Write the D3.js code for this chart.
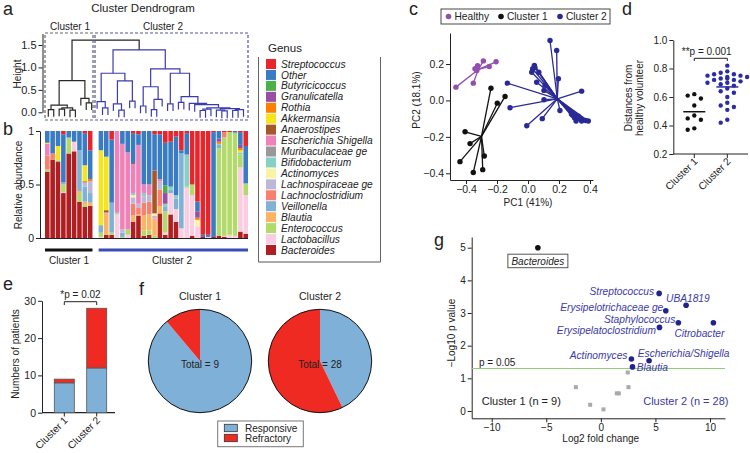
<!DOCTYPE html>
<html><head><meta charset="utf-8">
<script src="https://cdn.jsdelivr.net/npm/d3@7"></script>
<style>body{margin:0;background:#fff}svg{display:block}</style>
</head><body>
<svg id="fig" width="750" height="453"></svg>
<script>
// ---------------- DATA ----------------
const genera = ["Streptococcus","Other","Butyricicoccus","Granulicatella","Rothia","Akkermansia","Anaerostipes","Escherichia Shigella","Muribaculaceae ge","Bifidobacterium","Actinomyces","Lachnospiraceae ge","Lachnoclostridium","Veillonella","Blautia","Enterococcus","Lactobacillus","Bacteroides"];
const genusKeys = ["St","Ot","Bu","Gr","Ro","Ak","An","Es","Mu","Bi","Ac","Ls","Lc","Ve","Bl","En","Lb","Ba"];
const genusColors = ["#e8252a","#3a7cc3","#4daf4a","#984ea3","#ff7f00","#f5e51c","#a65628","#f081b9","#999999","#86d0c4","#f8f4a4","#bdb8da","#f8806f","#80b1d6","#fdb462","#b2da6a","#fbcde2","#b01e22"];

const cluster1Abundance = [
  {Ot:.11, Es:.11, Lc:.13, Ak:.01, En:.02, Ba:.62},
  {Ot:.21, Lc:.06, Ba:.73},
  {Ot:.14, Ak:.14, Ve:.01, Ba:.71},
  {St:.03, Ot:.45, Ve:.02, En:.07, Lb:.01, Ba:.42},
  {Ot:.06, En:.14, Ve:.01, Ba:.79},
  {Ot:.10, Lb:.09, Ba:.81},
  {Ot:.18, Ve:.38, En:.08, Bl:.02, Ba:.34},
  {St:.02, Ot:.30, Ak:.15, An:.01, Ls:.04, Ve:.14, Bl:.03, En:.02, Ba:.29},
  {St:.18, Ot:.27, Ro:.02, Ls:.11, Ve:.09, Bl:.03, Ba:.30}
];
const cluster2Abundance = [
  {Ot:.18, Ak:.70, Ve:.07, En:.04, Lb:.01},
  {Ot:.24, Ak:.50, An:.02, Lc:.01, Bl:.20, Ba:.03},
  {St:.08, Ot:.59, Ve:.28, En:.02, Ba:.03},
  {Es:.76, Ve:.01, En:.01, Lb:.22},
  {Ot:.12, Es:.80, Ls:.03, Ve:.04, En:.01},
  {Ot:.20, Es:.72, Lb:.03, En:.05},
  {St:.02, Ot:.28, An:.01, Es:.27, Bi:.02, Ls:.06, Lc:.11, Ac:.02, Bl:.06, Ba:.15},
  {St:.03, Ot:.10, Es:.55, Ls:.04, Lc:.06, Bl:.01, Ba:.21},
  {Ot:.50, Es:.08, Bi:.03, Ls:.06, Lc:.12, Bl:.14, En:.05, Ba:.02},
  {Ot:.50, Es:.10, Ls:.06, Lc:.12, Bl:.15, En:.04, Ba:.03},
  {St:.03, Ot:.34, An:.40, Ls:.03, Ac:.02, Bl:.16, En:.02},
  {St:.03, Ot:.42, Es:.02, Ls:.08, Lc:.15, Bl:.07, Ba:.23},
  {St:.11, Ot:.40, Bu:.07, Gr:.10, Bi:.03, Ve:.04, En:.20, Lb:.02, Ba:.03},
  {St:.10, Ot:.42, Bi:.03, Lb:.20, Ve:.03, Ba:.22},
  {St:.05, Ot:.55, Bi:.03, Ve:.10, Lb:.12, Ba:.15},
  {St:.18, Ot:.03, Ve:.70, Lb:.09},
  {St:.02, Ot:.20, Bi:.30, En:.01, Lb:.47},
  {St:.50, En:.10, Lb:.38, Ba:.02},
  {St:.66, Ot:.09, Gr:.06, Ro:.02, Ac:.06, Lb:.11},
  {St:.97, Ot:.02, Ba:.01},
  {St:.97, Ot:.02, Lb:.01},
  {St:.01, Ot:.98, Ba:.01},
  {Ot:.07, Gr:.03, Ro:.02, Ve:.03, Bi:.01, En:.82, Ba:.02},
  {St:.01, Lc:.05, En:.92, Lb:.01, Ba:.01},
  {St:.01, En:.96, Lb:.03},
  {Ot:.01, Mu:.01, En:.96, Lb:.02},
  {St:.01, Ot:.12, Gr:.03, Ro:.02, Ak:.02, Bi:.02, En:.12, Lb:.60, Ba:.06},
  {St:.14, Ot:.35, En:.11, Lb:.36, Ba:.04}
];

// dendrogram: [mergeHeight, left, right]; L = leaf
const L = 0;
const dendCluster1 = [0.705,
  [0.16, [0.06, L, L], [0.10, [0.07, L, L], [0.05, L, L]]],
  [0.31, L, [0.21, L, L]]];
const dendC2left = [0.87, [0.24, L, [0.10, L, L]], [0.70, [0.19, L, [0.05, L, L]], [0.25, L, L]]];
const dendC2cascadeTail = [0.10, [0.07, [0.04, L, L], L], [0.08, [0.05, L, [0.03, L, L]], [0.06, [0.04, L, L], L]]];
const dendC2cascade = [0.35, [0.22, L, L], [0.20, L, [0.17, L, dendC2cascadeTail]]];
const dendC2right = [0.97, [0.57, [0.14, L, L], [0.29, [0.06, L, L], L]], [0.87, [0.19, L, L], dendC2cascade]];
const dendCluster2 = [1.39, dendC2left, dendC2right];
const dendRootHeight = 1.61;

// PCoA
const pcHealthy = [[-0.465,0.073],[-0.353,0.095],[-0.342,0.174],[-0.33,0.165],[-0.325,0.19],[-0.288,0.217],[-0.25,0.186],[-0.206,0.212]];
const pcCluster1 = [[-0.239,0.067],[-0.148,0.022],[-0.198,-0.015],[-0.406,-0.172],[-0.374,-0.237],[-0.439,-0.336],[-0.353,-0.396],[-0.292,-0.38],[-0.282,-0.305]];
const pcCluster2 = [[0.142,0.329],[0.185,0.274],[0.041,0.192],[0.030,0.174],[0.024,0.155],[0.056,0.1],[-0.133,0.095],[0.103,0.055],[0.196,0.119],[0.346,0.051],[-0.116,-0.04],[0.103,0.004],[0.206,-0.055],[0.092,-0.1],[-0.008,-0.139],[0.288,-0.082],[0.30,-0.095],[0.32,-0.1],[0.346,-0.113],[0.372,-0.11],[0.389,-0.113],[0.31,-0.113],[0.325,-0.087],[0.28,-0.075],[0.34,-0.1],[0.07,0.155],[0.045,0.18],[0.11,0.083]];
const pcCentroids = [[-0.32,0.17],[-0.30,-0.197],[0.189,0.009]];

// distances from healthy
const distCluster1 = [0.62,0.61,0.59,0.54,0.47,0.45,0.44,0.38,0.37];
const distCluster2 = [0.82,0.78,0.77,0.76,0.76,0.75,0.75,0.74,0.74,0.73,0.73,0.72,0.72,0.71,0.70,0.70,0.69,0.68,0.66,0.64,0.63,0.60,0.56,0.54,0.53,0.51,0.44,0.42];

// outcome
const clusters = ["Cluster 1","Cluster 2"];
const responsive = [8,12];
const refractory = [1,16];

// volcano
const volcanoGenus = ["Bacteroides","Streptococcus","UBA1819","Erysipelotrichaceae ge","Staphylococcus","Citrobacter","Erysipelatoclostridium","Actinomyces","Escherichia/Shigella","Blautia"];
const volcanoLog2FC = [-5.77,5.34,7.81,5.95,7.1,10.31,5.37,2.8,4.42,2.9];
const volcanoNegLogP = [5.0,3.6,3.24,3.07,2.7,2.7,2.56,1.59,1.54,1.35];
const nsLog2FC = [2.47,-2.29,2.53,1.46,1.65,-0.98,0.24];
const nsNegLogP = [1.18,0.73,0.73,0.54,0.54,0.19,0.05];

// ---------------- DRAW ----------------
const F = "'Liberation Sans', Arial, Helvetica, sans-serif";
const INK = "#222";
const BLUE = "#2a2a96";
const svg = d3.select("#fig").attr("font-family", F);

function text(x, y, s, o = {}) {
  const t = svg.append("text").attr("x", x).attr("y", y).text(s)
    .attr("font-size", o.fs || 10).attr("fill", o.fill || INK)
    .attr("text-anchor", o.anchor || "start");
  if (o.italic) t.attr("font-style", "italic");
  if (o.rot != null) t.attr("transform", `rotate(${o.rot},${x},${y})`);
  if (o.dy) t.attr("dy", o.dy);
  return t;
}
function styleAxis(g, fs) {
  g.attr("font-family", F).attr("font-size", fs);
  g.selectAll("text").attr("fill", INK);
  g.selectAll("line,path").attr("stroke", INK);
}
function extend(scale, r0, r1) {
  return scale.copy().domain([scale.invert(r0), scale.invert(r1)]).range([r0, r1]);
}
function line(x1, y1, x2, y2, col, w, dash) {
  const l = svg.append("line").attr("x1", x1).attr("y1", y1).attr("x2", x2).attr("y2", y2)
    .attr("stroke", col || INK).attr("stroke-width", w || 1);
  if (dash) l.attr("stroke-dasharray", dash);
  return l;
}

// panel letters
[["a",3,15],["b",3,135],["c",409,15],["d",622,15],["e",3,290],["f",139,295],["g",434,246]]
  .forEach(([s,x,y]) => text(x, y, s, {fs: 18}));

// ===== Panel a: dendrogram =====
text(143, 12, "Cluster Dendrogram", {fs: 11.5, anchor: "middle"});
const dendY = d3.scaleLinear().domain([0, 1.5]).range([112.3, 45]);
const leafX = d3.scalePoint().domain(d3.range(37)).range([48.3, 243.5]);
const hang = 0.16;
let leafCounter = 0;
function layout(node, parentH) {
  if (!Array.isArray(node)) { const i = leafCounter++; return {x: leafX(i), h: parentH - hang}; }
  const [h, l, r] = node;
  const a = layout(l, h), b = layout(r, h);
  return {x: (a.x + b.x) / 2, h, kids: [a, b]};
}
const c1 = layout(dendCluster1, dendRootHeight);
const c2 = layout(dendCluster2, dendRootHeight);
const root = {x: (c1.x + c2.x) / 2, h: dendRootHeight, kids: [c1, c2]};
const dg = svg.append("g").attr("fill", "none").attr("stroke-width", 1.2);
function drawNode(n, col) {
  if (!n.kids) return;
  const [a, b] = n.kids;
  dg.append("path").attr("stroke", col)
    .attr("d", `M${a.x},${dendY(a.h)}V${dendY(n.h)}H${b.x}V${dendY(b.h)}`);
}
drawNode(root, "#222");
(function rec(n, col) { drawNode(n, col); (n.kids || []).forEach(k => rec(k, col)); })(c1, "#2a2a2a");
(function rec(n, col) { drawNode(n, col); (n.kids || []).forEach(k => rec(k, col)); })(c2, "#3b3bb0");

const dendAxisScale = extend(dendY, 112.3, 33.5);
const ay = svg.append("g").attr("transform", "translate(42.5,0)")
  .call(d3.axisLeft(dendAxisScale).tickValues([0, 0.5, 1, 1.5]).tickFormat(d3.format(".1f")).tickSize(4).tickSizeOuter(0).tickPadding(2));
styleAxis(ay, 11);
text(21, 74, "Height", {fs: 10, anchor: "middle", rot: -90});
svg.append("rect").attr("x", 45).attr("y", 33).attr("width", 48).attr("height", 87)
  .attr("fill", "none").attr("stroke", "#666").attr("stroke-width", 1.2).attr("stroke-dasharray", "3,2");
svg.append("rect").attr("x", 95).attr("y", 33).attr("width", 153).attr("height", 87)
  .attr("fill", "none").attr("stroke", "#5252aa").attr("stroke-width", 1.2).attr("stroke-dasharray", "3,2");
text(70, 30, "Cluster 1", {fs: 10, anchor: "middle"});
text(163, 30, "Cluster 2", {fs: 10, anchor: "middle"});

// ===== Panel b: stacked bars =====
const allAbund = cluster1Abundance.concat(cluster2Abundance).map(o => {
  const s = d3.sum(genusKeys, k => o[k] || 0);
  const r = {}; genusKeys.forEach(k => r[k] = (o[k] || 0) / s); return r;
});
const stackKeys = genusKeys.slice().reverse();
const series = d3.stack().keys(stackKeys)(allAbund);
const barX = d3.scaleBand().domain(d3.range(38)).range([45, 248]).paddingInner(0.15);
const slotOf = i => i < 9 ? i : i + 1;
const barY = d3.scaleLinear().domain([0, 1]).range([238, 131]);
const colorOf = k => genusColors[genusKeys.indexOf(k)];
const bg = svg.append("g");
series.forEach(s => {
  bg.selectAll(null).data(s).enter().append("rect")
    .attr("x", (d, i) => barX(slotOf(i))).attr("width", barX.bandwidth())
    .attr("y", d => barY(d[1])).attr("height", d => Math.max(0, barY(d[0]) - barY(d[1])))
    .attr("fill", colorOf(s.key));
});
const by = svg.append("g").attr("transform", "translate(40,0)")
  .call(d3.axisLeft(barY).tickValues([0, 0.5, 1]).tickFormat(d => d === 0.5 ? "0.5" : d3.format("d")(d)).tickSize(4).tickSizeOuter(0).tickPadding(2));
styleAxis(by, 10.5);
line(40, 238.5, 248, 238.5, INK, 1.2);
text(22, 185, "Relative abundance", {fs: 10, anchor: "middle", rot: -90});
line(45, 250, barX(slotOf(8)) + barX.bandwidth(), 250, "#111", 3);
line(barX(slotOf(9)), 250, 248, 250, "#3b4cb8", 3);
text(69, 264, "Cluster 1", {fs: 10, anchor: "middle"});
text(172, 264, "Cluster 2", {fs: 10, anchor: "middle"});

// legend
text(268, 52, "Genus", {fs: 11.5});
line(258.5, 57, 258.5, 262, "#666", 1);
line(380.5, 57, 380.5, 262, "#666", 1);
line(258.5, 262, 380.5, 262, "#555", 1);
genera.forEach((g, i) => {
  const cy = 64 + i * 10.94;
  svg.append("rect").attr("x", 266).attr("y", cy - 5).attr("width", 10).attr("height", 10).attr("fill", genusColors[i]);
  text(281, cy, g, {fs: 10.2, italic: true, dy: "0.35em"});
});

// ===== Panel c: PCoA =====
const cx = d3.scaleLinear().domain([-0.4, 0.4]).range([466, 590]);
const cy = d3.scaleLinear().domain([-0.4, 0.2]).range([173.3, 64]);
const cxAxis = svg.append("g").attr("transform", "translate(0,180)")
  .call(d3.axisBottom(extend(cx, 450, 593)).tickValues([-0.4, -0.2, 0, 0.2, 0.4]).tickFormat(d3.format(".1f")).tickSize(4).tickSizeOuter(0).tickPadding(2));
styleAxis(cxAxis, 10.5);
const cyAxis = svg.append("g").attr("transform", "translate(450,0)")
  .call(d3.axisLeft(extend(cy, 180, 33)).tickValues([-0.4, -0.2, 0, 0.2]).tickFormat(d3.format(".1f")).tickSize(4).tickSizeOuter(0).tickPadding(2));
styleAxis(cyAxis, 10.5);
text(528, 206, "PC1 (41%)", {fs: 10, anchor: "middle"});
text(420, 100, "PC2 (18.1%)", {fs: 10, anchor: "middle", rot: -90});
const pcGroups = [[pcHealthy, "#9150b0"], [pcCluster1, "#111111"], [pcCluster2, BLUE]];
pcGroups.forEach(([pts, col], gi) => {
  const [mx, my] = pcCentroids[gi];
  pts.forEach(p => line(cx(mx), cy(my), cx(p[0]), cy(p[1]), col, 1.3));
});
pcGroups.forEach(([pts, col]) => {
  svg.selectAll(null).data(pts).enter().append("circle")
    .attr("cx", d => cx(d[0])).attr("cy", d => cy(d[1])).attr("r", 2.7).attr("fill", col);
});
svg.append("rect").attr("x", 441).attr("y", 9).attr("width", 169).attr("height", 15)
  .attr("fill", "none").attr("stroke", "#333").attr("stroke-width", 0.9);
[["Healthy", 448.5, "#9150b0"], ["Cluster 1", 501, "#111"], ["Cluster 2", 560, BLUE]].forEach(([s, x, col]) => {
  svg.append("circle").attr("cx", x).attr("cy", 16.5).attr("r", 2.8).attr("fill", col);
  text(x + 6, 20, s, {fs: 10.2});
});

// ===== Panel d: distances =====
const dy = d3.scaleLinear().domain([0.2, 1.0]).range([154, 40]);
const dx = d3.scalePoint().domain(clusters).range([694.3, 727.3]);
const dyAxis = svg.append("g").attr("transform", "translate(673.3,0)")
  .call(d3.axisLeft(dy).tickValues([0.2, 0.4, 0.6, 0.8, 1.0]).tickFormat(d3.format(".1f")).tickSize(4).tickSizeOuter(0).tickPadding(2));
styleAxis(dyAxis, 10);
line(673.3, 154, 748, 154, INK, 1.2);
clusters.forEach(c => {
  line(dx(c), 154, dx(c), 158, INK, 1);
  text(dx(c) + 4, 162, c, {fs: 10.2, anchor: "end", rot: -45});
});
text(632, 98, "Distances from", {fs: 10, anchor: "middle", rot: -90});
text(643, 98, "healthy volunteer", {fs: 10, anchor: "middle", rot: -90});
function swarm(values, r, step) {
  const placed = [];
  return values.map(v => {
    const y = dy(v);
    for (const off of [0, -1, 1, -2, 2, -3, 3]) {
      const x = off * step;
      if (placed.every(p => Math.hypot(p.x - x, p.y - y) >= 2 * r + 0.8)) { placed.push({x, y}); return {x, y}; }
    }
    return {x: 0, y};
  });
}
[[distCluster1, "Cluster 1", "#111"], [distCluster2, "Cluster 2", "#2b2ba6"]].forEach(([vals, c, col]) => {
  const pos = swarm(vals, 2.2, 6.6);
  svg.selectAll(null).data(pos).enter().append("circle")
    .attr("cx", d => dx(c) + d.x).attr("cy", d => d.y).attr("r", 2.2).attr("fill", col);
  const m = d3.mean(vals);
  line(dx(c) - 11, dy(m), dx(c) + 11, dy(m), col, 1.5);
});
svg.append("path").attr("fill", "none").attr("stroke", INK).attr("stroke-width", 1)
  .attr("d", `M${dx("Cluster 1")},61V58.3H${dx("Cluster 2")}V61`);
text(706.7, 55, "**p = 0.001", {fs: 10, anchor: "middle"});

// ===== Panel e: stacked counts =====
const ey = d3.scaleLinear().domain([0, 30]).range([412.7, 300.8]);
const ex = d3.scalePoint().domain(clusters).range([64.3, 96.7]);
const eyAxis = svg.append("g").attr("transform", "translate(42,0)")
  .call(d3.axisLeft(ey).tickValues([0, 10, 20, 30]).tickSize(4).tickSizeOuter(0).tickPadding(2));
styleAxis(eyAxis, 10.5);
line(42, 412.7, 115, 412.7, INK, 1.2);
clusters.forEach((c, i) => {
  const x0 = ex(c) - 10;
  svg.append("rect").attr("x", x0).attr("width", 20).attr("y", ey(responsive[i])).attr("height", ey(0) - ey(responsive[i]))
    .attr("fill", "#7fb1d8").attr("stroke", "#555").attr("stroke-width", 0.8);
  svg.append("rect").attr("x", x0).attr("width", 20).attr("y", ey(responsive[i] + refractory[i])).attr("height", ey(responsive[i]) - ey(responsive[i] + refractory[i]))
    .attr("fill", "#ee2a22").attr("stroke", "#555").attr("stroke-width", 0.8);
  line(ex(c), 412.7, ex(c), 416.5, INK, 1);
  text(ex(c) + 4, 421, c, {fs: 10.2, anchor: "end", rot: -45});
});
text(19, 354, "Numbers of patients", {fs: 10, anchor: "middle", rot: -90});
svg.append("path").attr("fill", "none").attr("stroke", INK).attr("stroke-width", 1)
  .attr("d", `M${ex("Cluster 1")},305V301.7H${ex("Cluster 2")}V305`);
text(80.5, 298, "*p = 0.02", {fs: 10, anchor: "middle"});

// ===== Panel f: pies =====
const pieColors = ["#7fb1d8", "#ee2a22"];
const pie = d3.pie().sort(null).value(d => d);
const arc = d3.arc().innerRadius(0).outerRadius(51.7);
const pieCenters = [200, 320];
clusters.forEach((c, i) => {
  const g = svg.append("g").attr("transform", `translate(${pieCenters[i]},361)`);
  g.selectAll("path").data(pie([responsive[i], refractory[i]])).enter().append("path")
    .attr("d", arc).attr("fill", (d, j) => pieColors[j]);
  g.append("circle").attr("r", 51.7).attr("fill", "none").attr("stroke", "#111").attr("stroke-width", 1);
  text(pieCenters[i], 300, c, {fs: 10.5, anchor: "middle"});
  text(pieCenters[i], 368, "Total = " + (responsive[i] + refractory[i]), {fs: 10, anchor: "middle"});
});
svg.append("rect").attr("x", 217.7).attr("y", 421).attr("width", 85.6).attr("height", 25.7)
  .attr("fill", "#fff").attr("stroke", "#777").attr("stroke-width", 1);
["Responsive", "Refractory"].forEach((s, i) => {
  svg.append("rect").attr("x", 224.3).attr("y", 424.3 + i * 10).attr("width", 13).attr("height", 7.4)
    .attr("fill", pieColors[i]).attr("stroke", "#333").attr("stroke-width", 0.8);
  text(245, 428 + i * 10, s, {fs: 10, dy: "0.35em"});
});

// ===== Panel g: volcano =====
const gx = d3.scaleLinear().domain([-10, 10]).range([491.7, 710]);
const gy = d3.scaleLinear().domain([0, 5]).range([411, 247.7]);
const gxAxis = svg.append("g").attr("transform", "translate(0,418.3)")
  .call(d3.axisBottom(extend(gx, 471.7, 725)).tickValues([-10, -5, 0, 5, 10]).tickFormat(d3.format("d")).tickSize(4).tickSizeOuter(0).tickPadding(2));
styleAxis(gxAxis, 10);
const gyAxis = svg.append("g").attr("transform", "translate(471.7,0)")
  .call(d3.axisLeft(extend(gy, 418.3, 237)).tickValues([0, 1, 2, 3, 4, 5]).tickFormat(d3.format("d")).tickSize(4).tickSizeOuter(0).tickPadding(2));
styleAxis(gyAxis, 10);
text(600.7, 442, "Log2 fold change", {fs: 10, anchor: "middle"});
text(455, 333, "\u2212Log10 p value", {fs: 10, anchor: "middle", rot: -90});
line(471.7, gy(-Math.log10(0.05)), 725, gy(-Math.log10(0.05)), "#8fce74", 1.2);
text(479, 366, "p = 0.05", {fs: 10});
svg.selectAll(null).data(nsLog2FC).enter().append("rect")
  .attr("x", (d, i) => gx(d) - 2).attr("y", (d, i) => gy(nsNegLogP[i]) - 2).attr("width", 4).attr("height", 4).attr("fill", "#aaaaaa");
const LBL = "#3a3aa6";
const labelLayout = [
  null,
  ["end", -5, -1.7], ["start", -20, -7], ["end", -2.5, -3.4], ["end", -3, -3.5],
  ["middle", -14, 10.2], ["end", -3.5, 2.6], ["end", -4, -3.3], ["start", -11.3, -7.4], ["start", 4.3, 0.4]
];
volcanoGenus.forEach((g, i) => {
  const px = gx(volcanoLog2FC[i]), py = gy(volcanoNegLogP[i]);
  svg.append("circle").attr("cx", px).attr("cy", py).attr("r", 2.8).attr("fill", i === 0 ? "#111" : "#22228c");
  if (i === 0) {
    svg.append("rect").attr("x", px - 30).attr("y", py + 6.5).attr("width", 60).attr("height", 13.5)
      .attr("fill", "#fff").attr("stroke", "#555").attr("stroke-width", 1);
    text(px, py + 13.3, g, {fs: 10, italic: true, anchor: "middle", dy: "0.35em"});
  } else {
    const [anc, ox, oy] = labelLayout[i];
    text(px + ox, py + oy, g, {fs: 10.2, italic: true, anchor: anc, fill: LBL, dy: "0.35em"});
  }
});
text(481.7, 405, "Cluster 1 (n = 9)", {fs: 11});
text(728.5, 405, "Cluster 2 (n = 28)", {fs: 11, anchor: "end", fill: LBL});
</script>
</body></html>
